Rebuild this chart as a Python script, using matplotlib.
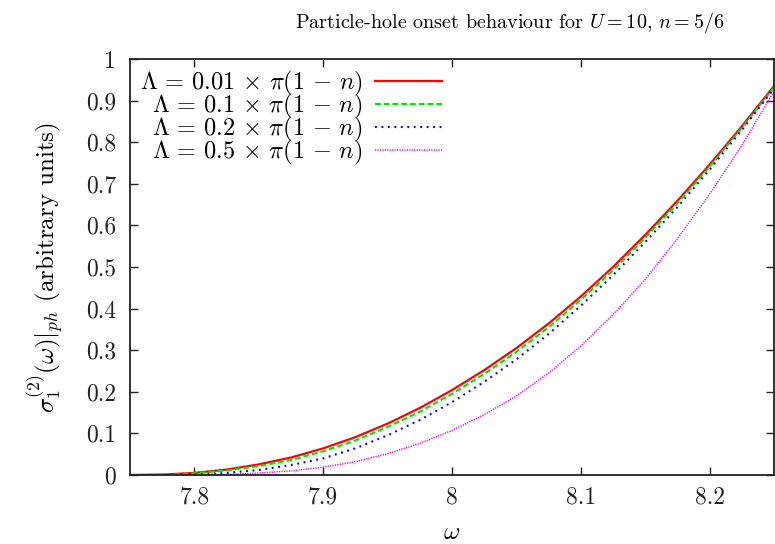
import matplotlib
matplotlib.use('Agg')
import matplotlib.pyplot as plt
from matplotlib.ticker import FixedLocator, FuncFormatter

plt.rcParams['font.family'] = 'serif'
plt.rcParams['font.serif'] = ['cmr10']
plt.rcParams['mathtext.fontset'] = 'cm'
plt.rcParams['axes.formatter.use_mathtext'] = True

# omega grid (values every 0.025)
omega = [7.75, 7.775, 7.8, 7.825, 7.85, 7.875, 7.9, 7.925, 7.95, 7.975, 8.0,
         8.025, 8.05, 8.075, 8.1, 8.125, 8.15, 8.175, 8.2, 8.225, 8.25]

sigma_001 = [0.0, 0.001, 0.005, 0.013, 0.0255, 0.042, 0.064, 0.091, 0.1235, 0.161, 0.204,
             0.252, 0.305, 0.364, 0.429, 0.500, 0.577, 0.659, 0.746, 0.838, 0.935]
sigma_01 = [0.0, 0.0007, 0.004, 0.011, 0.0215, 0.036, 0.057, 0.083, 0.1155, 0.152, 0.195,
            0.243, 0.296, 0.355, 0.421, 0.492, 0.570, 0.653, 0.741, 0.834, 0.932]
sigma_02 = [0.0, 0.0, 0.001, 0.005, 0.012, 0.024, 0.040, 0.064, 0.0955, 0.132, 0.175,
            0.224, 0.278, 0.339, 0.407, 0.480, 0.560, 0.644, 0.734, 0.829, 0.929]
sigma_05 = [0.0, 0.0, 0.0003, 0.0015, 0.0045, 0.010, 0.019, 0.032, 0.051, 0.076, 0.107,
            0.145, 0.190, 0.245, 0.310, 0.385, 0.470, 0.568, 0.675, 0.792, 0.922]

labels = [r'$\Lambda\, =\, 0.01\, \times\, \pi(1\,-\,n)$',
          r'$\Lambda\, =\, 0.1\, \times\, \pi(1\,-\,n)\hspace{0.57}$',
          r'$\Lambda\, =\, 0.2\, \times\, \pi(1\,-\,n)\hspace{0.57}$',
          r'$\Lambda\, =\, 0.5\, \times\, \pi(1\,-\,n)\hspace{0.57}$']

xticks = [7.8, 7.9, 8.0, 8.1, 8.2]
yticks = [0, 0.1, 0.2, 0.3, 0.4, 0.5, 0.6, 0.7, 0.8, 0.9, 1.0]

fig = plt.figure(figsize=(7.75, 5.44), dpi=100)
ax = fig.add_axes([130/775, 1-475/544, 645/775 - 0.0013, 416/544])

ax.plot(omega, sigma_001, color='#ff0000', lw=1.6, label=labels[0])
ax.plot(omega, sigma_01, color='#00e600', lw=1.5, dashes=(2.8, 1.4), label=labels[1])
ax.plot(omega, sigma_02, color='#0000ff', lw=1.5, dashes=(0.9, 2.2), label=labels[2])
ax.plot(omega, sigma_05, color='#ff00ff', lw=1.1, dashes=(0.8, 0.8), label=labels[3])

ax.set_xlim(7.75, 8.25)
ax.set_ylim(0, 1)
ax.xaxis.set_major_locator(FixedLocator(xticks))
ax.yaxis.set_major_locator(FixedLocator(yticks))
ax.xaxis.set_major_formatter(FuncFormatter(lambda v, p: '%g' % v))
ax.yaxis.set_major_formatter(FuncFormatter(lambda v, p: '%g' % v))
ax.tick_params(direction='in', length=6, width=1, top=True, right=True,
               labelsize=17, colors='#222222')
ax.tick_params(axis='x', pad=8)
ax.tick_params(axis='y', pad=10)
for s in ax.spines.values():
    s.set_linewidth(1.3)
    s.set_color('#222222')

ax.set_xlabel(r'$\omega$', fontsize=18, labelpad=10)
ax.set_ylabel(r'$\sigma_1^{(2)}(\omega)|_{ph}$ (arbitrary units)', fontsize=18, labelpad=14)
ax.set_title(r'Particle-hole onset behaviour for $U=10$, $n=5/6$', fontsize=14.5,
             x=0.589, pad=22)

ax.legend(loc='upper left', frameon=False, markerfirst=False, fontsize=17.5,
          handlelength=2.76, handletextpad=0.5, labelspacing=-0.25,
          borderpad=0, borderaxespad=0, bbox_to_anchor=(0.016, 0.977))

fig.savefig('out.png', dpi=100)
